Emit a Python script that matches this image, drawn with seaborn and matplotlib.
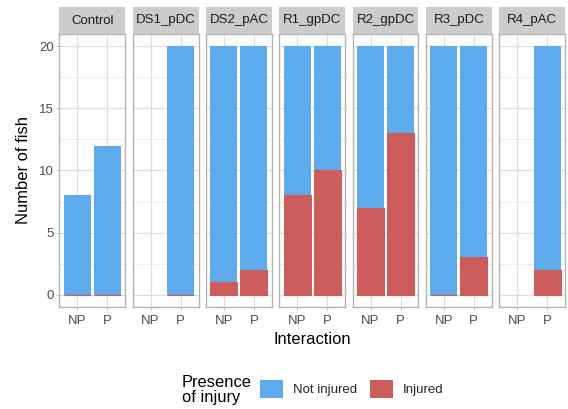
import matplotlib
matplotlib.use("Agg")
import matplotlib.pyplot as plt
from matplotlib.patches import Patch
import seaborn as sns
import pandas as pd

# ---- data ----
facets = ["Control", "DS1_pDC", "DS2_pAC", "R1_gpDC", "R2_gpDC", "R3_pDC", "R4_pAC"]
interaction_levels = ["NP", "P"]
group = ["Control", "Control", "DS1_pDC", "DS2_pAC", "DS2_pAC", "R1_gpDC", "R1_gpDC",
         "R2_gpDC", "R2_gpDC", "R3_pDC", "R3_pDC", "R4_pAC"]
interaction = ["NP", "P", "P", "NP", "P", "NP", "P", "NP", "P", "NP", "P", "P"]
not_injured = [8, 12, 20, 19, 18, 12, 10, 13, 7, 20, 17, 18]
injured = [0, 0, 0, 1, 2, 8, 10, 7, 13, 0, 3, 2]
legend_labels = ["Not injured", "Injured"]
y_ticks = [0, 5, 10, 15, 20]

df = pd.DataFrame({"group": group, "interaction": interaction,
                   "not_injured": not_injured, "injured": injured})
df["total"] = df["not_injured"] + df["injured"]

BLUE = "#5DABEC"
RED = "#CD5C5C"

sns.set_theme(style="white")
plt.rcParams["font.family"] = ["Liberation Sans", "DejaVu Sans"]

W, H = 568, 409
fig = plt.figure(figsize=(W / 100, H / 100), dpi=100)

left0, step, pw = 59.3, 73.3, 66.0
p_top, p_bot = 34.0, 307.0
s_top = 7.0

for i, fac in enumerate(facets):
    x0 = left0 + i * step
    ax = fig.add_axes([x0 / W, 1 - p_bot / H, pw / W, (p_bot - p_top) / H])
    sub = df[df["group"] == fac]
    sns.barplot(data=sub, x="interaction", y="total", order=interaction_levels,
                color=BLUE, saturation=1, width=0.9, errorbar=None, linewidth=0, ax=ax)
    sns.barplot(data=sub, x="interaction", y="injured", order=interaction_levels,
                color=RED, saturation=1, width=0.9, errorbar=None, linewidth=0.8,
                edgecolor=RED, ax=ax)
    ax.set_xlim(-0.6, 1.6)
    ax.set_ylim(-1, 21)
    ax.set_yticks(y_ticks)
    ax.set_yticks([2.5, 7.5, 12.5, 17.5], minor=True)
    ax.set_axisbelow(True)
    ax.grid(which="major", color="#DEDEDE", linewidth=0.9)
    ax.grid(which="minor", axis="y", color="#E6E6E6", linewidth=0.5)
    ax.set_xlabel("")
    ax.set_ylabel("")
    for sp in ax.spines.values():
        sp.set_color("#B3B3B3")
        sp.set_linewidth(1.0)
        sp.set_visible(True)
    ax.tick_params(axis="both", which="major", length=2.5, width=0.6, color="#B3B3B3",
                   labelsize=9.5, labelcolor="#4D4D4D")
    ax.tick_params(axis="x", pad=3.0, bottom=True)
    ax.tick_params(axis="y", pad=1.2, left=True)
    ax.tick_params(which="minor", length=0)
    if i > 0:
        ax.tick_params(axis="y", left=False, labelleft=False)
    # strip
    sax = fig.add_axes([x0 / W, 1 - p_top / H, pw / W, (p_top - s_top) / H])
    sax.set_facecolor("#CCCCCC")
    sax.set_xticks([])
    sax.set_yticks([])
    for sp in sax.spines.values():
        sp.set_visible(False)
    sax.text(0.5, 0.5, fac, ha="center", va="center", fontsize=9.5, color="#1A1A1A",
             transform=sax.transAxes)

center_x = (left0 + 6 * step + pw + left0) / 2
fig.text(24 / W, 1 - 170.5 / H, "Number of fish", rotation=90, ha="center", va="center",
         fontsize=11.9, color="black")
fig.text(center_x / W, 1 - 339 / H, "Interaction", ha="center", va="center",
         fontsize=11.9, color="black")

handles = [Patch(facecolor=BLUE, edgecolor="none"), Patch(facecolor=RED, edgecolor="none")]
fig.legend(handles, legend_labels, loc="center left", bbox_to_anchor=(260 / W, 1 - 389 / H),
           ncol=2, frameon=False, fontsize=9.5, handlelength=1.75, handleheight=1.8,
           handletextpad=0.75, columnspacing=0.95, borderpad=0, borderaxespad=0)
fig.text(182 / W, 1 - 390 / H, "Presence\nof injury", ha="left", va="center",
         fontsize=11.9, color="black", linespacing=1.05)

fig.savefig("out.png", dpi=100)
